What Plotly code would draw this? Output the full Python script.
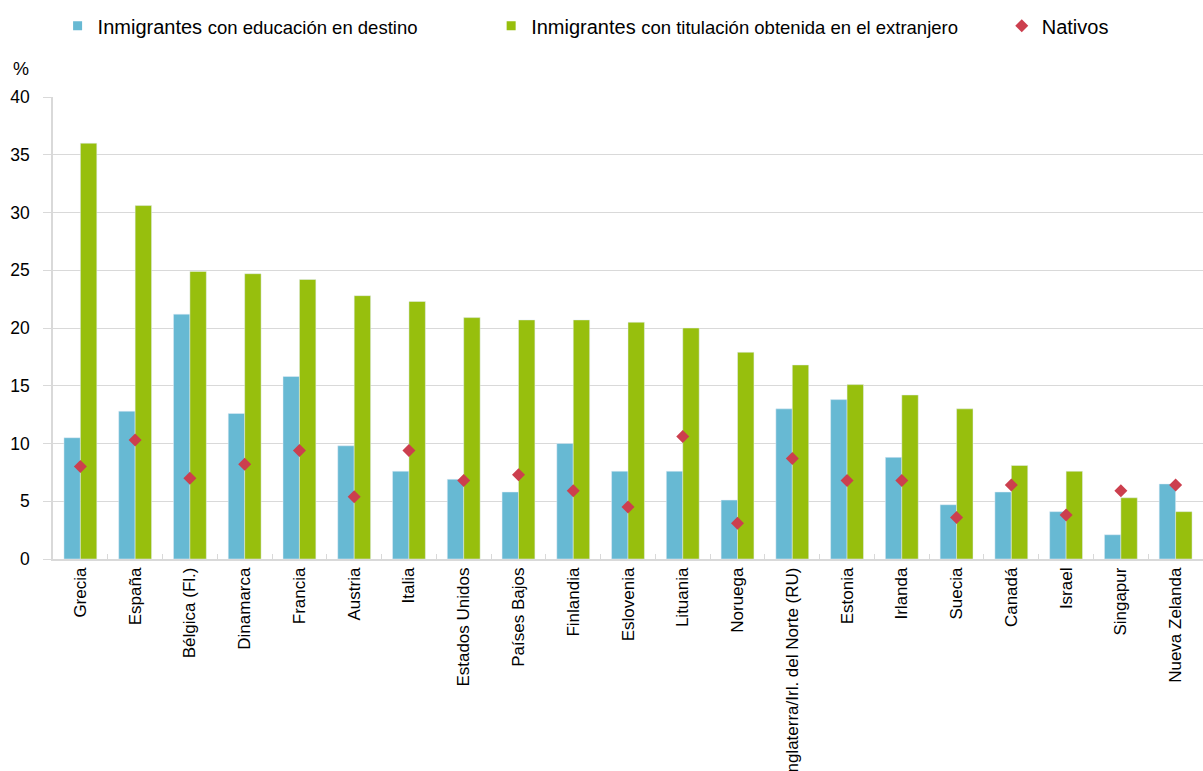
import plotly.graph_objects as go

# Country categories and the three series (%)
paises = [
    "Grecia", "España", "Bélgica (Fl.)", "Dinamarca", "Francia", "Austria",
    "Italia", "Estados Unidos", "Países Bajos", "Finlandia", "Eslovenia",
    "Lituania", "Noruega", "Inglaterra/Irl. del Norte (RU)", "Estonia",
    "Irlanda", "Suecia", "Canadá", "Israel", "Singapur", "Nueva Zelanda",
]
educ_destino = [10.5, 12.8, 21.2, 12.6, 15.8, 9.8, 7.6, 6.9, 5.8, 10.0, 7.6,
                7.6, 5.1, 13.0, 13.8, 8.8, 4.7, 5.8, 4.1, 2.1, 6.5]
titul_extranjero = [36.0, 30.6, 24.9, 24.7, 24.2, 22.8, 22.3, 20.9, 20.7, 20.7,
                    20.5, 20.0, 17.9, 16.8, 15.1, 14.2, 13.0, 8.1, 7.6, 5.3, 4.1]
nativos = [8.0, 10.3, 7.0, 8.2, 9.4, 5.4, 9.4, 6.8, 7.3, 5.9, 4.5, 10.6, 3.1,
           8.7, 6.8, 6.8, 3.6, 6.4, 3.8, 5.9, 6.4]
y_ticks = [0, 5, 10, 15, 20, 25, 30, 35, 40]

AZUL = "#67B9D3"
VERDE = "#97BF0D"
ROJO = "#CC3F4E"
GRIS = "#D9D9D9"
FUENTE = "Liberation Sans, Arial, sans-serif"

fig = go.Figure()
fig.add_trace(go.Bar(x=paises, y=educ_destino, marker_color=AZUL,
                     showlegend=False))
fig.add_trace(go.Bar(x=paises, y=titul_extranjero, marker_color=VERDE,
                     showlegend=False))
fig.add_trace(go.Scatter(x=paises, y=nativos, mode="markers",
                         marker=dict(symbol="diamond", size=10, color=ROJO),
                         showlegend=False))

# Legend entries, each in its own legend box along the top
etiqueta = "Inmigrantes <span style='font-size:18.5px'>{}</span>"
fig.add_trace(go.Scatter(x=[None], y=[None], mode="markers",
                         marker=dict(symbol="square", size=9, color=AZUL),
                         name=etiqueta.format("con educación en destino"),
                         legend="legend"))
fig.add_trace(go.Scatter(x=[None], y=[None], mode="markers",
                         marker=dict(symbol="square", size=9, color=VERDE),
                         name=etiqueta.format("con titulación obtenida en el extranjero"),
                         legend="legend2"))
fig.add_trace(go.Scatter(x=[None], y=[None], mode="markers",
                         marker=dict(symbol="diamond", size=10, color=ROJO),
                         name="Nativos", legend="legend3"))

leg_common = dict(yanchor="middle", y=1.154, xanchor="left",
                  bgcolor="rgba(0,0,0,0)", font=dict(size=20, color="#000"))

fig.update_layout(
    width=1203, height=771,
    margin=dict(l=53, r=0, t=97, b=212, autoexpand=False),
    paper_bgcolor="white", plot_bgcolor="white",
    font=dict(family=FUENTE, color="#000"),
    barmode="group", bargap=0.4, bargroupgap=0,
    legend=dict(x=0.004, **leg_common),
    legend2=dict(x=0.381, **leg_common),
    legend3=dict(x=0.825, **leg_common),
    xaxis=dict(
        range=[-0.5, len(paises) - 0.5], automargin=False,
        tickangle=-90, tickfont=dict(size=17),
        showline=True, linecolor=GRIS, linewidth=1.5,
        ticks="inside", ticklen=5, tickcolor=GRIS, tickson="boundaries",
        showgrid=False,
    ),
    yaxis=dict(
        range=[0, 40], tickvals=y_ticks, tickfont=dict(size=17.5),
        automargin=False,
        showgrid=True, gridcolor=GRIS, gridwidth=1.3,
        showline=True, linecolor=GRIS, linewidth=1.5,
        ticks="outside", ticklen=8, tickcolor=GRIS,
        ticklabelstandoff=10, zeroline=False,
    ),
    annotations=[dict(text="%", xref="paper", yref="paper", x=-0.028,
                      y=1.06, showarrow=False, font=dict(size=18),
                      xanchor="center", yanchor="middle")],
)

fig.write_html("out.html")
